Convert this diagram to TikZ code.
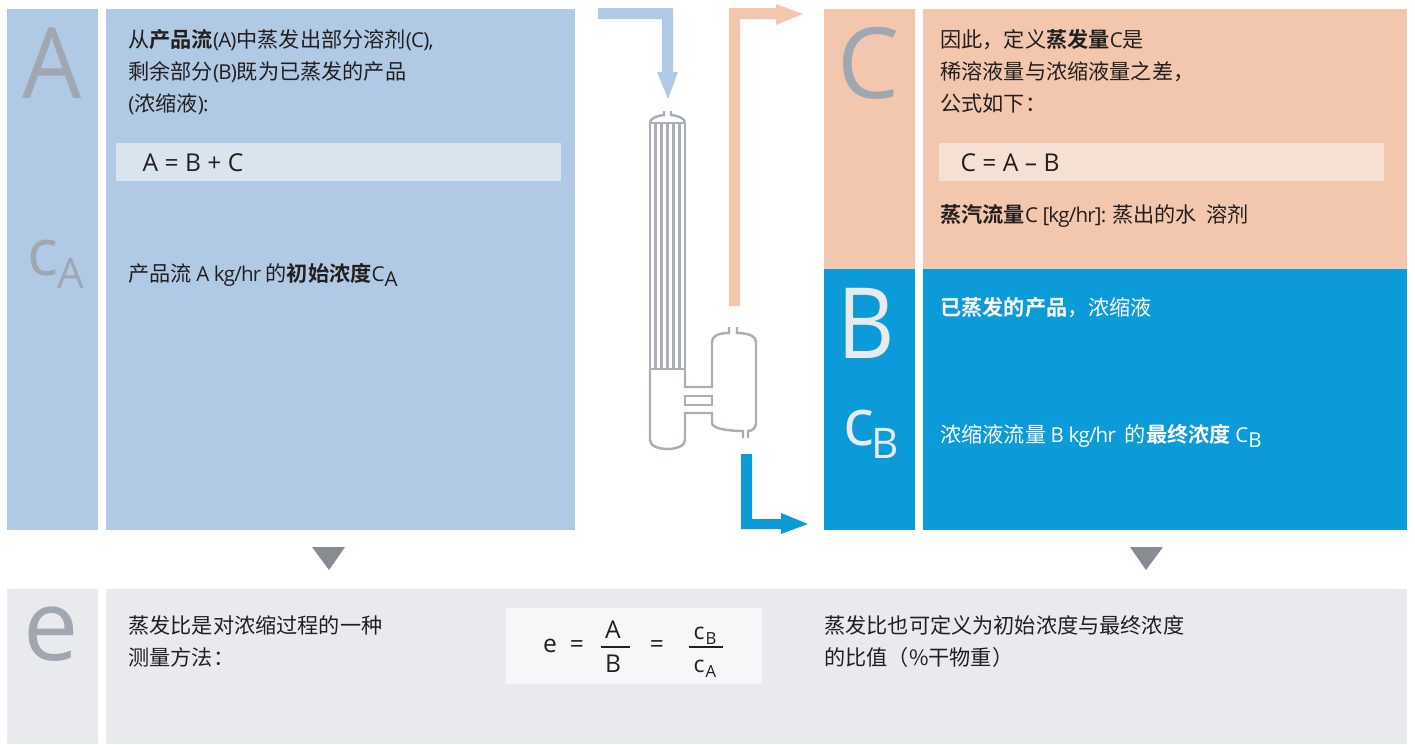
\documentclass[tikz,border=0pt]{standalone}
\usepackage{fontspec}
\setmainfont{Open Sans}
\newfontfamily\cjkfont[Scale=1.03,BoldFont={Noto Sans CJK SC Bold}]{Noto Sans CJK SC}
\usepackage{tikz}
\definecolor{feedblue}{HTML}{B0CAE5}
\definecolor{feedpale}{HTML}{DAE4EE}
\definecolor{steamorange}{HTML}{F3C7AE}
\definecolor{steampale}{HTML}{F5E0D3}
\definecolor{concblue}{HTML}{0B9BD9}
\definecolor{ratiogrey}{HTML}{E9EAEE}
\definecolor{ratiopale}{HTML}{F6F7F9}
\definecolor{lettergrey}{HTML}{A0A7B0}
\definecolor{vesselgrey}{HTML}{A9AFB7}
\definecolor{inkgrey}{HTML}{231F20}
\newcommand{\zh}[1]{{\cjkfont #1}}
\newcommand{\zhb}[1]{{\cjkfont\bfseries #1}}
\newcommand{\low}[1]{\raisebox{-3pt}{#1}}
\tikzset{
	body/.style={anchor=base west,inner sep=0pt,text=inkgrey,font=\fontsize{11.7}{13}\selectfont\addfontfeature{LetterSpace=-4}},
	bodyw/.style={body,text=white},
	bigletter/.style={anchor=base,inner sep=0pt,text=lettergrey,font=\fontsize{56}{60}\selectfont},
	midletter/.style={anchor=base,inner sep=0pt,text=lettergrey,font=\fontsize{37}{40}\selectfont},
	subletter/.style={anchor=base,inner sep=0pt,text=lettergrey,font=\fontsize{24}{26}\selectfont},
	formula/.style={anchor=base,inner sep=0pt,text=inkgrey,font=\fontsize{14}{16}\selectfont},
	formulac/.style={formula,font=\fontsize{13}{15}\selectfont},
	formulasub/.style={anchor=base,inner sep=0pt,text=inkgrey,font=\fontsize{9.5}{11}\selectfont},
	vessel/.style={draw=vesselgrey,line width=1.4pt,fill=none},
	tube/.style={draw=vesselgrey,line width=1.6pt}
}
\begin{document}
\begin{tikzpicture}[x=0.02cm,y=-0.02cm]
	\useasboundingbox (0,0) rectangle (1415,744);
	% panels
	\fill[feedblue] (7,9) rectangle (98,530);
	\fill[feedblue] (106,9) rectangle (575,530);
	\fill[steamorange] (824,9) rectangle (915,269);
	\fill[steamorange] (923,9) rectangle (1407,269);
	\fill[concblue] (824,269) rectangle (915,530);
	\fill[concblue] (923,269) rectangle (1407,530);
	\fill[ratiogrey] (7,589) rectangle (98,744);
	\fill[ratiogrey] (106,589) rectangle (1407,744);
	\fill[feedpale] (116,143) rectangle (561,181);
	\fill[steampale] (939,143) rectangle (1384,181);
	\fill[ratiopale] (506,608) rectangle (762,684);
	% letters
	\node[bigletter,xscale=.95] (letterA) at (52,98) {A};
	\node[midletter] (letterca) at (43,275) {c};
	\node[subletter] (letterca2) at (71,288) {A};
	\node[bigletter] (letterC) at (869,98) {C};
	\node[bigletter,text=ratiogrey,xscale=.9] (letterB) at (866,358) {B};
	\node[midletter,text=ratiogrey] (lettercb) at (859,445) {c};
	\node[subletter,text=ratiogrey] (lettercb2) at (885,458) {B};
	\node[bigletter] (lettere) at (51,660) {e};
	% left text
	\node[body] (textA1) at (128,47) {\zh{从}\zhb{产品流}(A)\zh{中蒸发出部分溶剂}(C),};
	\node[body] (textA2) at (128,79) {\zh{剩余部分}(B)\zh{既为已蒸发的产品}};
	\node[body] (textA3) at (128,111) {(\zh{浓缩液}):};
	\node[formula] (eqA) at (193,171) {A = B + C};
	\node[body] (textcA) at (128,281) {\zh{产品流} A kg/hr \zh{的}\zhb{初始浓度}C\low{A}};
	% right text
	\node[body] (textC1) at (940,47) {\zh{因此，定义}\zhb{蒸发量}C\zh{是}};
	\node[body] (textC2) at (940,79) {\zh{稀溶液量与浓缩液量之差，}};
	\node[body] (textC3) at (940,111) {\zh{公式如下：}};
	\node[formula] (eqC) at (1010,171) {C = A – B};
	\node[body] (textC4) at (940,222) {\zhb{蒸汽流量}C [kg/hr]: \zh{蒸出的水\ \ 溶剂}};
	\node[bodyw] (textB) at (940,315) {\zhb{已蒸发的产品}\zh{，浓缩液}};
	\node[bodyw] (textcB) at (940,442) {\zh{浓缩液流量} B kg/hr \ \zh{的}\zhb{最终浓度} C\low{B}};
	% bottom text
	\node[body] (texte1) at (128,633) {\zh{蒸发比是对浓缩过程的一种}};
	\node[body] (texte2) at (128,665) {\zh{测量方法：}};
	\node[body] (texte3) at (824,633) {\zh{蒸发比也可定义为初始浓度与最终浓度}};
	\node[body] (texte4) at (824,665) {\zh{的比值（\%干物重）}};
	% ratio formula
	\node[formula] (fe) at (550,652) {e};
	\node[formula] (feq1) at (577,652) {=};
	\node[formula] (fA) at (613,638) {A};
	\node[formula] (fB) at (613,672) {B};
	\draw[inkgrey,line width=.6pt] (601,647) -- (630,647);
	\node[formula] (feq2) at (657,652) {=};
	\node[formulac] (fc1) at (699,639) {c};
	\node[formulasub] (fcb) at (711,644) {B};
	\node[formulac] (fc2) at (699,672) {c};
	\node[formulasub] (fca) at (711,677) {A};
	\draw[inkgrey,line width=.6pt] (689,647) -- (723,647);
	% down triangles
	\fill[vesselgrey!80!black] (312,547) -- (345,547) -- (329,570) -- cycle;
	\fill[vesselgrey!80!black] (1130,547) -- (1163,547) -- (1146,570) -- cycle;
	% arrows
	\fill[feedblue] (598,8) -- (673,8) -- (673,72) -- (678,72) -- (668,99) -- (657,72) -- (662,72) -- (662,19) -- (598,19) -- cycle;
	\fill[steamorange] (729,306) -- (729,8) -- (776,8) -- (776,4) -- (803,14) -- (776,25) -- (776,19) -- (740,19) -- (740,306) -- cycle;
	\fill[concblue] (741,454) -- (752,454) -- (752,519) -- (781,519) -- (781,513) -- (808,524) -- (781,534) -- (781,529) -- (741,529) -- cycle;
	% evaporator
	\foreach \tubex in {650,655.8,661.7,667.5,673.3,679.2,685}
		\draw[tube] (\tubex,123) -- (\tubex,369);
	\draw[vessel] (650,123) .. controls (650,118) and (658,115.5) .. (664,115) -- (664,111);
	\draw[vessel] (685,123) .. controls (685,118) and (677,115.5) .. (671,115) -- (671,111);
	\draw[vessel] (650,123) -- (685,123);
	\draw[vessel] (650,369) -- (685,369);
	\draw[vessel] (650,369) -- (650,440) .. controls (650,452) and (685,452) .. (685,440) -- (685,413) -- (712,413) -- (712,423) .. controls (712,429) and (730,431) .. (743,431) -- (743,438);
	\draw[vessel] (748,438) -- (748,431) .. controls (752,431) and (756,428) .. (756,423) -- (756,342) .. controls (756,336) and (748,333) .. (737,333) -- (737,327);
	\draw[vessel] (729,327) -- (729,333) .. controls (718,333) and (712,336) .. (712,342) -- (712,387) -- (685,387) -- (685,369);
	\draw[vessel] (685,396) rectangle (712,405);
\end{tikzpicture}
\end{document}
